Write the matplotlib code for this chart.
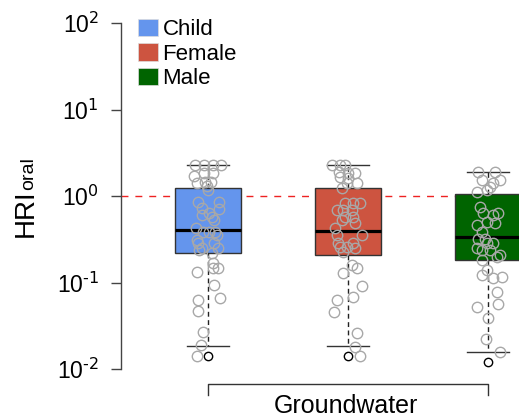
import matplotlib

matplotlib.use("Agg")
import matplotlib.pyplot as plt
from matplotlib.patches import Patch
from matplotlib.transforms import blended_transform_factory

plt.rcParams["font.family"] = ["Liberation Sans", "DejaVu Sans"]

# ---------------------------------------------------------------------------
# Data.
# ---------------------------------------------------------------------------
groups = ["Child", "Female", "Male"]
colors = ["#6495ED", "#CD5440", "#006400"]
site_label = "Groundwater"

# box summaries (log-scale HRI)
medians = [0.40, 0.39, 0.336]
q1 = [0.22, 0.21, 0.18]
q3 = [1.24, 1.24, 1.05]
whisk_lo = [0.0185, 0.0185, 0.0158]
whisk_hi = [2.28, 2.28, 1.89]
outliers = [[0.014], [0.014], [0.012]]

# individual samples and their horizontal jitter (pixels at 140 px per group)
child_vals = [2.28, 2.28, 2.28, 2.28, 1.70, 1.85, 1.85, 1.41, 1.45, 1.45, 1.30, 1.17,
              0.85, 0.85, 0.73, 0.71, 0.64, 0.60, 0.57, 0.53, 0.43, 0.38, 0.38, 0.38,
              0.35, 0.31, 0.29, 0.29, 0.25, 0.25, 0.24, 0.22, 0.17, 0.147, 0.147,
              0.132, 0.094, 0.066, 0.063, 0.047, 0.027, 0.019, 0.014]
child_jit = [-13, -4, 5, 13, -14, -4, 5, -11, -3, 3, -1, 0, -10, 11, -6, 11, 1, -6, 4,
             6, -12, -5, 1, 7, 9, -11, -10, 6, -6, 10, -9, 4, 5, 10, 5, -11, 6, 12,
             -10, -10, -5, -7, -11]

female_vals = [2.28, 2.28, 2.28, 1.89, 1.85, 1.85, 1.66, 1.61, 1.41, 1.41, 1.24,
               0.83, 0.83, 0.83, 0.69, 0.69, 0.69, 0.57, 0.57, 0.53, 0.49, 0.43,
               0.35, 0.35, 0.29, 0.29, 0.26, 0.26, 0.25, 0.225, 0.16, 0.147, 0.128,
               0.091, 0.068, 0.063, 0.046, 0.026, 0.018, 0.014]
female_jit = [-16, -8, -3, -9, 0, 7, -8, 0, 9, -1, -6, 5, 12, -3, -11, -5, 4, -3, 5,
              -6, 7, -13, -11, 14, -10, 5, -8, -1, 7, -5, 4, 9, -5, 14, 5, -11, -14,
              9, 7, 12]

male_vals = [1.89, 1.89, 1.53, 1.53, 1.41, 1.27, 1.17, 1.11, 0.75, 0.64, 0.64, 0.60,
             0.50, 0.49, 0.46, 0.38, 0.32, 0.32, 0.29, 0.29, 0.25, 0.24, 0.24, 0.21,
             0.197, 0.18, 0.14, 0.122, 0.116, 0.113, 0.078, 0.056, 0.052, 0.039,
             0.022, 0.0158]
male_jit = [-10, 7, -6, 12, 5, 2, -1, -11, -8, -5, 10, 5, -1, 7, -11, -6, -10, -3, -1,
            5, -11, -6, 2, 12, 9, -6, -1, -6, 14, 5, 9, 10, -11, 0, -2, 12]

samples = [child_vals, female_vals, male_vals]
jitters = [child_jit, female_jit, male_jit]

yticks = [1e-2, 1e-1, 1e0, 1e1, 1e2]
ytick_exps = ["-2", "-1", "0", "1", "2"]
threshold = 1.0


def main():
    W, H = 519, 417
    fig = plt.figure(figsize=(W / 100, H / 100), dpi=100)
    ax = fig.add_axes([121 / W, 1 - 369 / H, 1 - 121 / W, (369 - 23) / H])

    positions = [1, 2, 3]
    stats = [
        {"med": m, "q1": a, "q3": b, "whislo": lo, "whishi": hi, "fliers": fl}
        for m, a, b, lo, hi, fl in zip(medians, q1, q3, whisk_lo, whisk_hi, outliers)
    ]
    bp = ax.bxp(stats, positions=positions, widths=0.47, capwidths=0.3,
                patch_artist=True, showfliers=True,
                boxprops=dict(edgecolor="#333333", linewidth=1.0),
                medianprops=dict(color="black", linewidth=2.3),
                whiskerprops=dict(color="#222222", linewidth=1.0,
                                  linestyle=(0, (3.5, 2.5))),
                capprops=dict(color="#333333", linewidth=1.0),
                flierprops=dict(marker="o", markerfacecolor="none",
                                markeredgecolor="black", markersize=6,
                                markeredgewidth=1.0))
    for patch, c in zip(bp["boxes"], colors):
        patch.set_facecolor(c)

    ax.axhline(threshold, color="#EE2222", lw=1.0, ls=(0, (5, 5)), zorder=1.5)

    # jittered samples on top
    for pos, vals, jit in zip(positions, samples, jitters):
        xs = [pos + j / 140 for j in jit]
        ax.plot(xs, vals, "o", mfc="none", mec="#A8A8A8", ms=7.5, mew=1.0,
                zorder=5, clip_on=False)

    ax.set_yscale("log")
    ax.set_ylim(1e-2, 1e2)
    ax.set_xlim(1 - 87 / 140, 3 + 31 / 140)
    ax.set_yticks(yticks)
    # R-style exponents with a short hyphen
    ax.set_yticklabels([r"$\mathregular{10^{\text{%s}}}$" % e for e in ytick_exps],
                       fontsize=16.5)
    ax.minorticks_off()
    ax.tick_params(axis="y", length=7, width=1.0, color="#444444", pad=9)
    ax.set_xticks([])
    for side in ("top", "right", "bottom"):
        ax.spines[side].set_visible(False)
    ax.spines["left"].set_color("#444444")
    ax.spines["left"].set_linewidth(1.0)

    # y label: HRI with "oral" in smaller type on the same baseline
    fig.text(33 / W, 1 - 237 / H, "HRI", fontsize=20, rotation=90,
             rotation_mode="anchor", ha="left", va="baseline")
    fig.text(33 / W, 1 - 190 / H, "oral", fontsize=14, rotation=90,
             rotation_mode="anchor", ha="left", va="baseline")

    # legend
    handles = [Patch(facecolor=c, edgecolor="#DDDDDD", linewidth=0.5) for c in colors]
    ax.legend(handles, groups, loc="upper left", fontsize=16, frameon=False,
              bbox_to_anchor=(138 / W, 1 - 19 / H), bbox_transform=fig.transFigure,
              borderpad=0, borderaxespad=0, handlelength=0.9, handleheight=0.82,
              handletextpad=0.2, labelspacing=0.14)

    # bracket under the groups
    tr = blended_transform_factory(ax.transData, fig.transFigure)
    y_top, y_bot = 1 - 384 / H, 1 - 395 / H
    ax.plot([positions[0], positions[0], positions[-1], positions[-1]],
            [y_bot, y_top, y_top, y_bot], color="#333333", lw=1.0,
            transform=tr, clip_on=False)
    fig.text(346 / W, 1 - 413 / H, site_label, fontsize=18, ha="center",
             va="baseline")

    fig.savefig("out.png", dpi=100)
    plt.close(fig)


if __name__ == "__main__":
    main()
